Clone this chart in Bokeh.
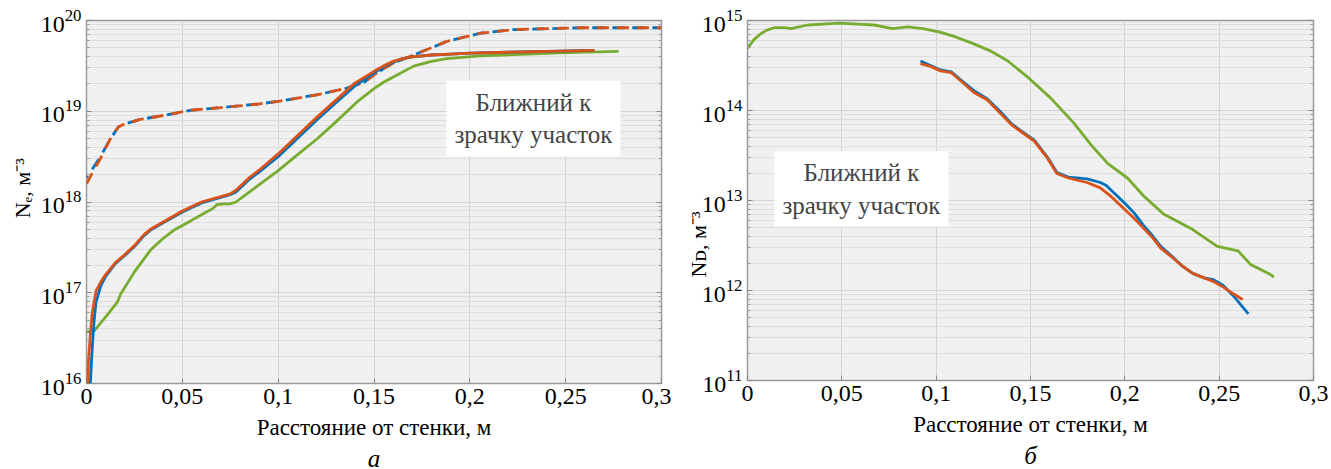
from bokeh.plotting import figure
from bokeh.layouts import row
from bokeh.models import (FixedTicker, CustomJSTickFormatter, Label, Title, LogAxis,
                          Range1d, LogTickFormatter)
from bokeh.embed import file_html
from bokeh.resources import INLINE

# ---------------- data: panel a (Ne) ----------------
xa_orange = [0.0007, 0.001, 0.002, 0.003, 0.005, 0.0075, 0.01, 0.015, 0.02, 0.025, 0.03, 0.0334,
             0.04, 0.05, 0.06, 0.065, 0.07, 0.075, 0.078, 0.085, 0.09, 0.1, 0.11, 0.12, 0.13,
             0.14, 0.15, 0.155, 0.16, 0.165, 0.17, 0.18, 0.19, 0.2, 0.22, 0.24, 0.265]
la_orange = [16.0, 16.24, 16.54, 16.78, 17.02, 17.12, 17.20, 17.33, 17.42, 17.52, 17.64, 17.70,
             17.78, 17.90, 18.0, 18.03, 18.06, 18.09, 18.13, 18.27, 18.35, 18.53, 18.73, 18.93, 19.12,
             19.31, 19.44, 19.50, 19.55, 19.58, 19.60, 19.62, 19.63, 19.64, 19.65, 19.66, 19.67]

xa_blue = [0.002, 0.003, 0.004, 0.005, 0.0075, 0.01, 0.015, 0.02, 0.025, 0.03, 0.0334,
           0.04, 0.05, 0.06, 0.065, 0.07, 0.075, 0.078, 0.085, 0.09, 0.1, 0.11, 0.12, 0.13,
           0.14, 0.15, 0.155, 0.16, 0.165, 0.17, 0.18, 0.19, 0.2, 0.22, 0.24, 0.265]
la_blue = [16.0, 16.4, 16.7, 16.9, 17.08, 17.18, 17.32, 17.41, 17.51, 17.63, 17.69,
           17.77, 17.89, 17.99, 18.02, 18.05, 18.08, 18.11, 18.25, 18.33, 18.50, 18.70, 18.90, 19.09,
           19.28, 19.42, 19.49, 19.54, 19.58, 19.60, 19.62, 19.63, 19.64, 19.65, 19.66, 19.67]

xa_green = [0.0, 0.004, 0.0095, 0.0162, 0.0177, 0.025, 0.0334, 0.04, 0.0464, 0.055, 0.06, 0.066,
            0.068, 0.072, 0.075, 0.078, 0.0856, 0.0997, 0.11, 0.1205, 0.13, 0.141, 0.15, 0.155,
            0.162, 0.171, 0.18, 0.188, 0.2056, 0.23, 0.25, 0.2776]
la_green = [16.57, 16.58, 16.72, 16.90, 16.98, 17.23, 17.47, 17.60, 17.70, 17.80, 17.86, 17.93,
            17.97, 17.98, 17.98, 18.0, 18.12, 18.34, 18.52, 18.70, 18.88, 19.10, 19.25, 19.32,
            19.40, 19.50, 19.55, 19.58, 19.61, 19.63, 19.645, 19.66]

xa_dash = [0.0, 0.003, 0.0073, 0.012, 0.0167, 0.02, 0.028, 0.042, 0.054, 0.07, 0.09, 0.1,
           0.12, 0.135, 0.145, 0.15, 0.155, 0.16, 0.1706, 0.18, 0.188, 0.2056, 0.2228, 0.2405,
           0.2577, 0.28, 0.3]
la_dash_orange = [18.20, 18.32, 18.48, 18.68, 18.83, 18.86, 18.91, 18.96, 19.01, 19.04, 19.08, 19.11,
                  19.18, 19.25, 19.32, 19.40, 19.47, 19.53, 19.62, 19.70, 19.77, 19.86, 19.90, 19.91,
                  19.92, 19.92, 19.92]
la_dash_blue = [18.27, 18.36, 18.50, 18.68, 18.83, 18.86, 18.91, 18.96, 19.01, 19.04, 19.08, 19.11,
                19.18, 19.25, 19.32, 19.40, 19.47, 19.53, 19.62, 19.70, 19.77, 19.86, 19.90, 19.91,
                19.92, 19.92, 19.92]

# ---------------- data: panel б (ND) ----------------
xb_green = [0.0, 0.0035, 0.0069, 0.01, 0.014, 0.02, 0.023, 0.032, 0.04, 0.049, 0.058, 0.067,
            0.077, 0.085, 0.093, 0.102, 0.11, 0.12, 0.129, 0.138, 0.148, 0.1606, 0.173, 0.182,
            0.191, 0.2014, 0.21, 0.2205, 0.235, 0.249, 0.26, 0.2666, 0.277, 0.279]
lb_green = [14.69, 14.79, 14.85, 14.89, 14.92, 14.92, 14.91, 14.95, 14.96, 14.97, 14.96, 14.95,
            14.91, 14.93, 14.91, 14.87, 14.82, 14.74, 14.66, 14.55, 14.38, 14.14, 13.86, 13.62,
            13.41, 13.25, 13.05, 12.85, 12.69, 12.49, 12.44, 12.29, 12.18, 12.15]

xb_orange = [0.0917, 0.097, 0.1023, 0.108, 0.113, 0.12, 0.127, 0.134, 0.14, 0.146, 0.152, 0.159,
             0.164, 0.17, 0.18, 0.187, 0.193, 0.199, 0.205, 0.21, 0.215, 0.219, 0.225, 0.23,
             0.236, 0.242, 0.247, 0.252, 0.257, 0.2625]
lb_orange = [14.52, 14.49, 14.44, 14.42, 14.33, 14.20, 14.12, 13.97, 13.84, 13.75, 13.66, 13.47,
             13.30, 13.25, 13.20, 13.14, 13.04, 12.92, 12.80, 12.69, 12.58, 12.47, 12.37, 12.28,
             12.19, 12.14, 12.10, 12.04, 11.97, 11.90]

xb_blue = [0.0917, 0.097, 0.1023, 0.108, 0.113, 0.12, 0.127, 0.134, 0.14, 0.146, 0.152, 0.159,
           0.164, 0.17, 0.18, 0.187, 0.19, 0.195, 0.2, 0.205, 0.21, 0.215, 0.219, 0.225, 0.23,
           0.236, 0.242, 0.247, 0.252, 0.258, 0.2655]
lb_blue = [14.55, 14.50, 14.45, 14.43, 14.34, 14.22, 14.13, 13.99, 13.85, 13.76, 13.67, 13.48,
           13.31, 13.26, 13.24, 13.20, 13.17, 13.07, 12.97, 12.86, 12.72, 12.60, 12.49, 12.38, 12.28,
           12.19, 12.14, 12.12, 12.06, 11.93, 11.74]

x_ticks = [0.0, 0.05, 0.1, 0.15, 0.2, 0.25, 0.3]
box_text = "Ближний к\nзрачку участок"
x_title = "Расстояние от стенки, м"
NB = "\u00a0"
y_title_a = NB * 5 + "N\u2091, м\u207b\u00b3"
y_title_b = "N\u1d05, м\u207b\u00b3" + NB * 16

BLUE = "#0072BD"
ORANGE = "#D95319"
GREEN = "#77AC30"
FONT = "Liberation Serif"
LW = 2.8

blank_fmt = CustomJSTickFormatter(code="return '';")
x_fmt = CustomJSTickFormatter(code="""
return (Math.round(tick*100)/100).toString().replace(".", ",");
""")


def pw(v):
    return [10.0 ** a for a in v]


def make_fig(dec_lo, dec_hi, fw, fh, bl, br, bt, letter, ytitle, ystand):
    p = figure(width=bl + fw + br, height=469, frame_width=fw, frame_height=fh,
               y_axis_type="log", x_range=Range1d(0, 0.3),
               y_range=Range1d(10.0 ** dec_lo, 10.0 ** dec_hi),
               output_backend="svg", toolbar_location=None,
               min_border_left=bl, min_border_right=br, min_border_top=bt,
               min_border_bottom=5)
    p.background_fill_color = "#f0f0f0"
    p.border_fill_color = "white"
    p.outline_line_color = "#9a9a9a"
    p.outline_line_width = 1.5
    majors = [10.0 ** d for d in range(dec_lo, dec_hi + 1)]
    minors = [k * 10.0 ** d for d in range(dec_lo, dec_hi) for k in range(2, 10)]
    yt = FixedTicker(ticks=majors, minor_ticks=minors)
    xt = FixedTicker(ticks=x_ticks)
    p.yaxis.ticker = yt
    p.yaxis.formatter = LogTickFormatter()
    p.xaxis.ticker = xt
    p.xaxis.formatter = x_fmt
    for ax in (p.xaxis, p.yaxis):
        ax.axis_line_color = None
        ax.major_tick_in = 5
        ax.major_tick_out = 0
        ax.minor_tick_in = 3
        ax.minor_tick_out = 0
        ax.major_tick_line_color = "#888888"
        ax.minor_tick_line_color = "#999999"
        ax.major_label_text_font = FONT
        ax.major_label_text_font_size = "24px"
        ax.major_label_text_color = "black"
        ax.axis_label_text_font = FONT
        ax.axis_label_text_font_style = "normal"
        ax.axis_label_text_color = "black"
    p.xaxis.major_label_standoff = 5
    p.yaxis.major_label_standoff = 5
    p.xaxis.axis_label = x_title
    p.xaxis.axis_label_text_font_size = "23px"
    p.xaxis.axis_label_standoff = 8
    p.yaxis.axis_label = ytitle
    p.yaxis.axis_label_text_font_size = "22px"
    p.yaxis.axis_label_standoff = ystand
    ra = LogAxis(ticker=yt, formatter=blank_fmt, axis_line_color=None,
                 major_tick_in=5, major_tick_out=0, minor_tick_in=3, minor_tick_out=0,
                 major_tick_line_color="#888888", minor_tick_line_color="#999999")
    p.add_layout(ra, "right")
    p.xgrid.ticker = xt
    p.ygrid.ticker = yt
    p.xgrid.grid_line_color = "#d4d4d4"
    p.ygrid.grid_line_color = "#d4d4d4"
    p.ygrid.minor_grid_line_color = "#dedede"
    p.add_layout(Title(text=letter, align="center", text_font=FONT, text_font_size="25px",
                       text_font_style="italic", text_color="black", standoff=0), "below")
    return p


# ---------------- panel a ----------------
pa = make_fig(16, 20, 575, 363, 86, 10, 19, "а", y_title_a, 3)
pa.line(xa_dash, pw(la_dash_blue), line_color=BLUE, line_width=LW, line_dash="12 8",
        line_dash_offset=10)
pa.line(xa_dash, pw(la_dash_orange), line_color=ORANGE, line_width=LW, line_dash="12 8")
pa.line(xa_green, pw(la_green), line_color=GREEN, line_width=LW)
pa.line(xa_blue, pw(la_blue), line_color=BLUE, line_width=LW)
pa.line(xa_orange, pw(la_orange), line_color=ORANGE, line_width=LW)
pa.add_layout(Label(x=0.2332, y=10.0 ** 18.92, text=box_text, text_align="center",
                    text_baseline="middle", text_font=FONT, text_font_size="25px",
                    text_line_height=1.2, background_fill_color="white", padding=8))

# ---------------- panel б ----------------
pb = make_fig(11, 15, 566, 360, 76, 18, 20, "б", y_title_b, -12)
pb.line(xb_green, pw(lb_green), line_color=GREEN, line_width=LW)
pb.line(xb_blue, pw(lb_blue), line_color=BLUE, line_width=LW)
pb.line(xb_orange, pw(lb_orange), line_color=ORANGE, line_width=LW)
pb.add_layout(Label(x=0.0604, y=10.0 ** 13.128, text=box_text, text_align="center",
                    text_baseline="middle", text_font=FONT, text_font_size="25px",
                    text_line_height=1.2, background_fill_color="white", padding=8))

layout = row(pa, pb)
open("out.html", "w").write(file_html(layout, INLINE))
